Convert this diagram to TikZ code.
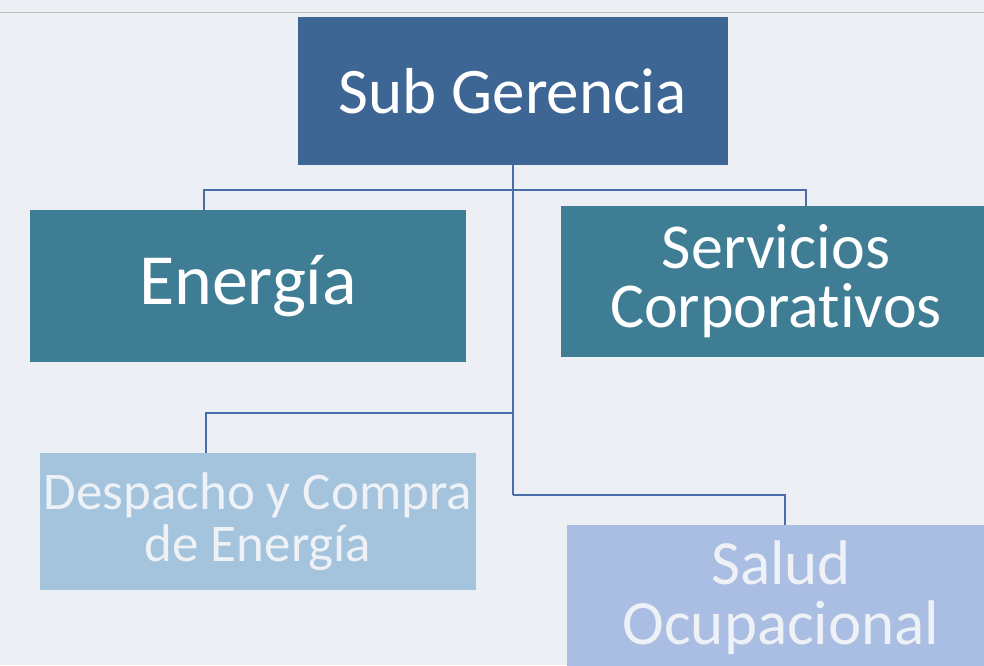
\documentclass[tikz,border=0pt]{standalone}
\usepackage{fontspec}
\setmainfont{Carlito}[Ligatures=NoCommon]
\usepackage[HTML]{xcolor}
\usepackage{tikz}
\usetikzlibrary{positioning}

\definecolor{bgcol}{HTML}{ECEFF3}
\definecolor{subcol}{HTML}{3E6694}
\definecolor{areacol}{HTML}{3F7D95}
\definecolor{despcol}{HTML}{A4C3DC}
\definecolor{salcol}{HTML}{AABDE2}
\definecolor{linecol}{HTML}{4A6FA8}
\definecolor{softtext}{HTML}{EEF2F6}

\begin{document}
\begin{tikzpicture}[x=1pt, y=-1pt,
  box/.style={rectangle, inner sep=0pt, align=center},
  conn/.style={linecol, line width=1.3pt}]

\fill[bgcol] (0,0) rectangle (984,665);
\useasboundingbox (0,0) rectangle (984,665);

% --- page rule ---
\draw[gray!50, line width=1pt] (0,12) -- (984,12);

% --- Boxes ---
\node[box, fill=subcol, minimum width=430pt, minimum height=148pt, text=white,
  font=\fontsize{65}{62}\selectfont] (sub) at (513,91) {Sub Gerencia};
\node[box, fill=areacol, minimum width=436pt, minimum height=152pt, text=white,
  font=\fontsize{72}{64}\selectfont] (ener) at (248,286) {Energía};
\node[box, fill=areacol, minimum width=430pt, minimum height=151pt, text=white,
  font=\fontsize{64}{59}\selectfont] (serv) at (776,281.5) {Servicios\\Corporativos};
\node[box, fill=despcol, minimum width=436pt, minimum height=137pt, text=softtext,
  font=\fontsize{53}{52}\selectfont] (desp) at (258,521.5) {Despacho y Compra\\de Energía};
\node[box, fill=salcol, minimum width=428pt, minimum height=145pt, text=softtext,
  font=\fontsize{63}{60}\selectfont] (salud) at (781,597.5) {Salud\\Ocupacional};

% --- Connectors ---
\coordinate (jtop) at (513,190);
\coordinate (jdes) at (513,413);
\coordinate (jsal) at (513,495);
\draw[conn] (sub.south) -- (jsal);
\draw[conn] ([xshift=-44pt]ener.north) |- (jtop) -| ([xshift=30pt]serv.north);
\draw[conn] (jdes) -| ([xshift=-52pt]desp.north);
\draw[conn] (jsal) -| ([xshift=4pt]salud.north);

\end{tikzpicture}
\end{document}
